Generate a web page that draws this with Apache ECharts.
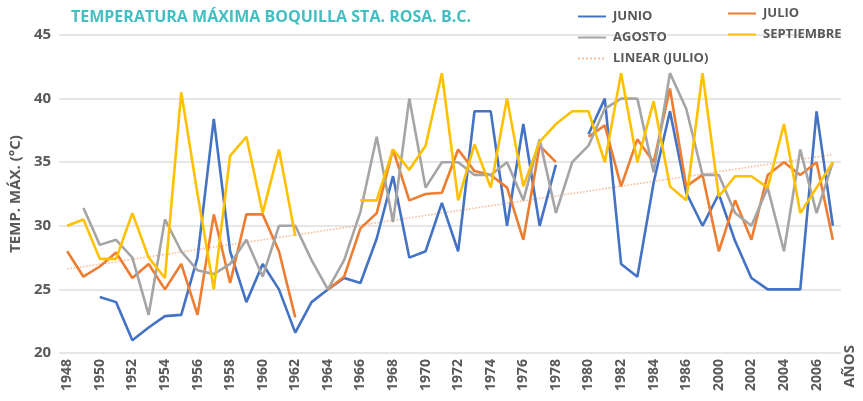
<!DOCTYPE html>
<html>
<head>
<meta charset="utf-8">
<script src="https://cdn.jsdelivr.net/npm/echarts@6/dist/echarts.min.js"></script>
<style>
  html, body { margin: 0; padding: 0; background: #fff; }
  #chart { width: 863px; height: 401px; }
</style>
</head>
<body>
<div id="chart"></div>
<script>
// years on the category axis (the original jumps from 1987 to 2000)
const years = [
  "1948", "1949", "1950", "1951", "1952", "1953", "1954", "1955", "1956", "1957",
  "1958", "1959", "1960", "1961", "1962", "1963", "1964", "1965", "1966", "1967",
  "1968", "1969", "1970", "1971", "1972", "1973", "1974", "1975", "1976", "1977",
  "1978", "1979", "1980", "1981", "1982", "1983", "1984", "1985", "1986", "1987",
  "2000", "2001", "2002", "2003", "2004", "2005", "2006", "2007"
];

const junio = [
  null, null, 24.4, 24, 21, 22, 22.9, 23, 27.5, 38.4,
  28, 24, 27, 25, 21.6, 24, 25, 25.9, 25.5, 29,
  33.9, 27.5, 28, 31.8, 28, 39, 39, 30, 38, 30,
  34.8, null, 37.2, 40, 27, 26, 33.4, 39, 32.6, 30,
  32.5, 28.8, 25.9, 25, 25, 25, 39, 30
];

const julio = [
  28, 26, 26.8, 27.9, 25.9, 27, 25, 27, 23, 30.9,
  25.5, 30.9, 30.9, 28, 22.8, null, 25, 26, 29.8, 31,
  36, 32, 32.5, 32.6, 36, 34.3, 34, 33, 28.9, 36.3,
  35, null, 37, 37.9, 33.1, 36.8, 35, 40.8, 33.1, 34,
  28, 32, 28.9, 34, 35, 34, 35, 28.9
];

const agosto = [
  null, 31.4, 28.5, 28.9, 27.5, 23, 30.5, 28, 26.5, 26.2,
  27, 28.9, 26, 30, 30, 27.3, 25, 27.3, 31.1, 37,
  30.3, 40, 33, 35, 35, 34, 34, 35, 32, 36.8,
  31, 35, 36.3, 39.2, 40, 40, 34.2, 42, 39.2, 34,
  34, 31, 30, 33, 28, 36, 31, 35
];

const septiembre = [
  30, 30.5, 27.4, 27.4, 31, 27.5, 25.9, 40.5, 32.5, 25,
  35.5, 37, 31, 36, 29.2, null, null, null, 32, 32,
  36, 34.4, 36.3, 42, 32, 36.4, 33, 40, 33.1, 36.6,
  38, 39, 39, 35, 42, 35, 39.8, 33.1, 32, 42,
  32.3, 33.9, 33.9, 33, 38, 31, 33, 35
];

// ends of the linear trend of julio
const trendStart = 26.6;
const trendEnd = 35.6;

const yTicks = [20, 25, 30, 35, 40, 45];

const trend = years.map((y, i) => {
  if (i === 0) return trendStart;
  if (i === years.length - 1) return trendEnd;
  return null;
});

const gray = "#595959";
const font = "'Open Sans', 'Noto Sans', sans-serif";

const myChart = echarts.init(document.getElementById("chart"));

function lineSeries(name, data, color) {
  return {
    name: name,
    type: "line",
    data: data,
    symbol: "none",
    smooth: false,
    lineStyle: { color: color, width: 2.6 },
    itemStyle: { color: color }
  };
}

const legendText = { color: gray, fontSize: 13, fontWeight: "bold", fontFamily: font, padding: [4, 0, 0, 2] };

const option = {
  animation: false,
  textStyle: { fontFamily: font },
  title: {
    text: "TEMPERATURA MÁXIMA BOQUILLA STA. ROSA. B.C.",
    left: 66,
    top: 4,
    textStyle: { color: "#43BEC1", fontSize: 16, fontWeight: "bold", fontFamily: font }
  },
  legend: [
    {
      orient: "vertical",
      left: 572,
      top: 5,
      itemWidth: 28,
      itemHeight: 14,
      itemGap: 8,
      itemStyle: { opacity: 0 },
      data: ["JUNIO", "AGOSTO", "LINEAR (JULIO)"],
      textStyle: legendText
    },
    {
      orient: "vertical",
      left: 722,
      top: 2,
      itemWidth: 28,
      itemHeight: 14,
      itemGap: 8,
      itemStyle: { opacity: 0 },
      data: ["JULIO", "SEPTIEMBRE"],
      textStyle: legendText
    }
  ],
  grid: { left: 54, right: 22, top: 35, bottom: 48 },
  xAxis: {
    type: "category",
    data: years,
    boundaryGap: true,
    axisLine: { show: false },
    axisTick: { show: false },
    axisLabel: {
      interval: 1,
      rotate: 90,
      margin: 6,
      color: gray,
      fontSize: 14,
      fontWeight: "bold",
      fontFamily: font
    }
  },
  yAxis: {
    type: "value",
    min: yTicks[0],
    max: yTicks[yTicks.length - 1],
    interval: 5,
    name: "TEMP. MÁX. (°C)",
    nameLocation: "middle",
    nameGap: 33,
    nameTextStyle: { color: gray, fontSize: 15, fontWeight: "bold", fontFamily: font },
    axisLine: { show: false },
    axisTick: { show: false },
    axisLabel: { color: gray, fontSize: 15, fontWeight: "bold", margin: 8, fontFamily: font },
    splitLine: { lineStyle: { color: "#DEDEDE", width: 1.5 } }
  },
  graphic: [
    {
      type: "text",
      left: 842,
      top: 345,
      rotation: Math.PI / 2,
      originX: 0,
      originY: 0,
      style: {
        text: "AÑOS",
        fill: gray,
        font: "bold 15px " + font
      }
    }
  ],
  series: [
    {
      name: "LINEAR (JULIO)",
      type: "line",
      data: trend,
      connectNulls: true,
      symbol: "none",
      z: 1,
      lineStyle: { color: "#EE8A4E", width: 1.6, type: "dotted", opacity: 0.55 },
      itemStyle: { color: "#EE8A4E" }
    },
    lineSeries("JUNIO", junio, "#4472C4"),
    lineSeries("JULIO", julio, "#ED7D31"),
    lineSeries("AGOSTO", agosto, "#A5A5A5"),
    lineSeries("SEPTIEMBRE", septiembre, "#FFC000")
  ]
};

myChart.setOption(option);
</script>
</body>
</html>
